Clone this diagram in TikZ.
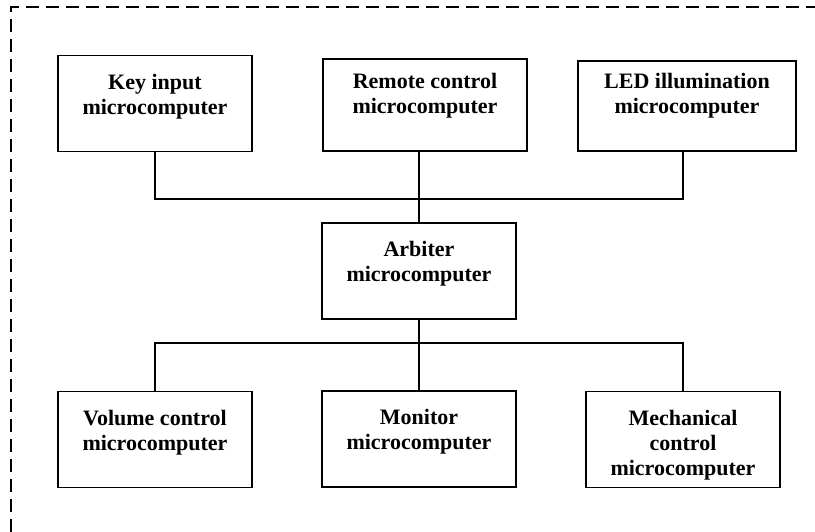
\documentclass[tikz,border=0pt]{standalone}
\usepackage{fontspec}
\setmainfont{Liberation Serif}
\begin{document}
\begin{tikzpicture}[x=1pt,y=-1pt,
  box/.style={draw, line width=1.6pt, inner sep=0pt, minimum width=#1, minimum height=96pt},
  box/.default=194pt,
  txt/.style={anchor=north, align=center, inner sep=0pt, yshift=-19pt,
    font=\fontsize{22}{25}\selectfont\bfseries},
  wire/.style={line width=1.6pt},
  frame/.style={line width=1.5pt, dash pattern=on 13pt off 7pt}]
\useasboundingbox (0,0) rectangle (815,532);
\draw[frame] (11,532) -- (11,7) -- (815,7);
% top row
\node[box] (key) at (155,103.5) {};
\node[txt] at (key.north) {Key input\\microcomputer};
\node[box=204pt, minimum height=92pt] (rem) at (425,105) {};
\node[txt, yshift=4pt] at (rem.north) {Remote control\\microcomputer};
\node[box=218pt, minimum height=90pt] (led) at (687,106) {};
\node[txt, yshift=6pt] at (led.north) {LED illumination\\microcomputer};
% middle
\node[box] (arb) at (419,271) {};
\node[txt] at (arb.north) {Arbiter\\microcomputer};
% bottom row
\node[box] (vol) at (155,439.5) {};
\node[txt] at (vol.north) {Volume control\\microcomputer};
\node[box] (mon) at (419,439) {};
\node[txt] at (mon.north) {Monitor\\microcomputer};
\node[box] (mec) at (683,439.5) {};
\node[txt] at (mec.north) {Mechanical\\control\\microcomputer};
% buses
\coordinate (tbus) at (419,199);
\coordinate (bbus) at (419,343);
\draw[wire] (key.south) -- (key.south |- tbus) -- (mec.north |- tbus) -- (led.south -| mec.north);
\draw[wire] (rem.south -| arb.north) -- (arb.north);
\draw[wire] (arb.south) -- (mon.north);
\draw[wire] (vol.north) -- (vol.north |- bbus) -- (mec.north |- bbus) -- (mec.north);
\end{tikzpicture}
\end{document}
